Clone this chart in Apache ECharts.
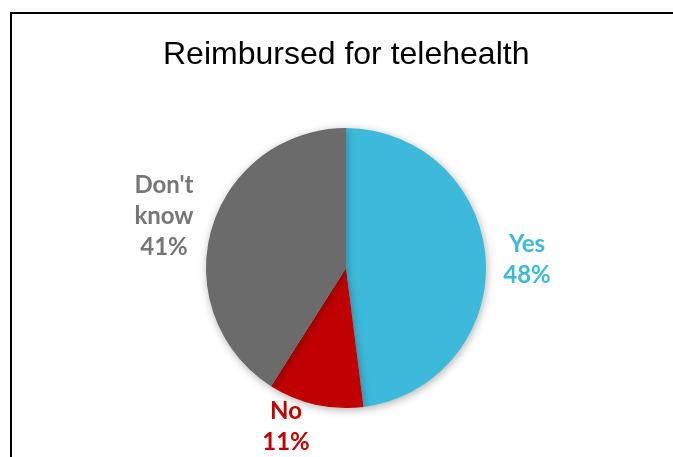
<!DOCTYPE html>
<html>
<head>
<meta charset="utf-8">
<script src="https://cdn.jsdelivr.net/npm/echarts@6/dist/echarts.min.js"></script>
<style>
html,body{margin:0;padding:0;background:#fff;}
#chart{width:673px;height:457px;}
</style>
</head>
<body>
<div id="chart"></div>
<script>
const titleText = 'Reimbursed for telehealth';
const categories = ["Yes", "No", "Don't\nknow"];
const values = [48, 11, 41];
const sliceColors = ['#3DBADB', '#C00000', '#6B6B6B'];
const labelColors = ['#3DBADB', '#C00000', '#767676'];

const labelSpots = [[527, 260], [286, 427], [164, 216]];

const chart = echarts.init(document.getElementById('chart'));
chart.setOption({
  animation: false,
  title: {
    text: titleText,
    left: 158,
    top: 34,
    textStyle: {fontFamily: 'Liberation Sans, Arial', fontSize: 32, fontWeight: 'normal', color: '#000'}
  },
  graphic: [{
    type: 'polyline',
    shape: {points: [[11, 460], [11, 13], [680, 13]]},
    style: {stroke: '#000', lineWidth: 2, fill: null}
  }],
  series: [{
    type: 'pie',
    center: [346, 268],
    radius: 140,
    startAngle: 90,
    clockwise: true,
    itemStyle: {shadowBlur: 8, shadowColor: 'rgba(0,0,0,0.3)', shadowOffsetX: 1, shadowOffsetY: 2},
    labelLine: {show: false},
    label: {
      show: true,
      position: 'outside',
      fontFamily: 'Lato, Open Sans, sans-serif',
      fontWeight: 'bold',
      fontSize: 24,
      lineHeight: 31,
      align: 'center',
      formatter: p => p.name + '\n' + p.value + '%'
    },
    labelLayout: p => ({x: labelSpots[p.dataIndex][0], y: labelSpots[p.dataIndex][1], align: 'center', verticalAlign: 'middle'}),
    data: categories.map((c, i) => ({
      name: c, value: values[i],
      itemStyle: {color: sliceColors[i]},
      label: {color: labelColors[i]}
    }))
  }]
});
</script>
</body>
</html>
